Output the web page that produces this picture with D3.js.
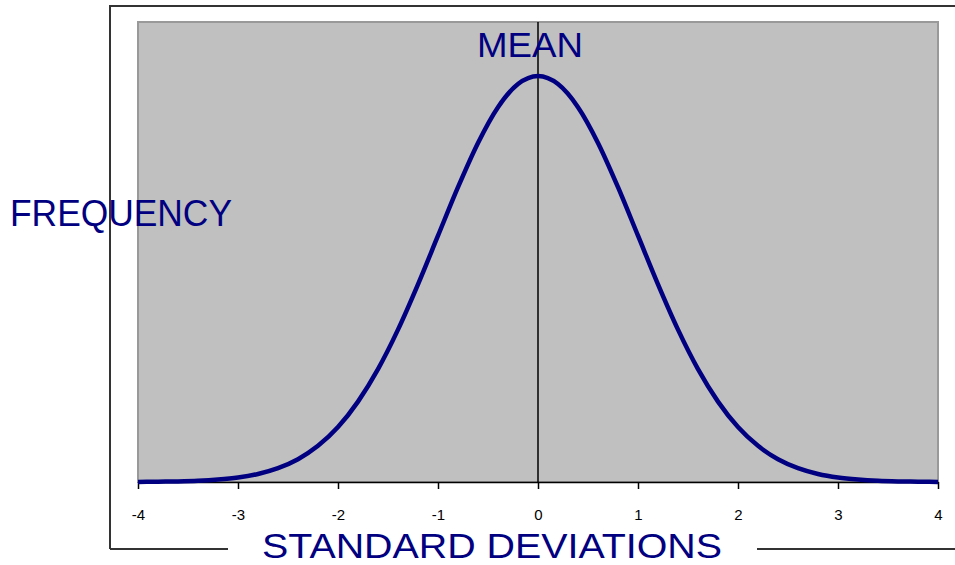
<!DOCTYPE html>
<html>
<head>
<meta charset="utf-8">
<script src="https://cdn.jsdelivr.net/npm/d3@7"></script>
<style>
  html, body { margin: 0; padding: 0; background: #fff; }
  svg { display: block; }
</style>
</head>
<body>
<svg id="chart" width="955" height="565"></svg>
<script>
// Standard deviations from the mean (x) and relative frequency (y)
const sdPoints = [-4.0,-3.8,-3.6,-3.4,-3.2,-3.0,-2.8,-2.6,-2.4,-2.2,-2.0,-1.8,-1.6,-1.4,-1.2,-1.0,-0.8,-0.6,-0.4,-0.2,
                  0.0,0.2,0.4,0.6,0.8,1.0,1.2,1.4,1.6,1.8,2.0,2.2,2.4,2.6,2.8,3.0,3.2,3.4,3.6,3.8,4.0];
const frequency = [0.0001,0.0003,0.0006,0.0012,0.0024,0.0044,0.0079,0.0136,0.0224,0.0355,0.0540,0.0790,0.1109,0.1497,0.1942,0.2420,0.2897,0.3332,0.3683,0.3910,
                   0.3989,0.3910,0.3683,0.3332,0.2897,0.2420,0.1942,0.1497,0.1109,0.0790,0.0540,0.0355,0.0224,0.0136,0.0079,0.0044,0.0024,0.0012,0.0006,0.0003,0.0001];
const xTicks = [-4,-3,-2,-1,0,1,2,3,4];
const xTickLabels = ["-4","-3","-2","-1","0","1","2","3","4"];
const meanValue = 0;
const labels = { top: "MEAN", left: "FREQUENCY", bottom: "STANDARD DEVIATIONS" };

const svg = d3.select("#chart");
const navy = "#000080";
const plot = { left: 138, right: 938, top: 22, bottom: 482 };

const x = d3.scaleLinear().domain([-4, 4]).range([plot.left, plot.right]);
const y = d3.scaleLinear().domain([0, 0.4]).range([plot.bottom, 74.9]);

// outer frame (left, top, and bottom broken by the title)
const frame = svg.append("g").attr("stroke", "#333").attr("stroke-width", 2).attr("fill", "none");
frame.append("path").attr("d", "M110,549 L110,6 L960,6");
frame.append("line").attr("x1", 110).attr("x2", 228).attr("y1", 549).attr("y2", 549);
frame.append("line").attr("x1", 757).attr("x2", 960).attr("y1", 549).attr("y2", 549);

// plot area
svg.append("rect")
  .attr("x", plot.left).attr("y", plot.top)
  .attr("width", plot.right - plot.left).attr("height", plot.bottom - plot.top)
  .attr("fill", "#c0c0c0").attr("stroke", "#999").attr("stroke-width", 2);

// x axis
const axis = svg.append("g")
  .attr("transform", `translate(0,${plot.bottom})`)
  .call(d3.axisBottom(x).tickValues(xTicks).tickFormat((d, i) => xTickLabels[i]).tickSize(7).tickSizeOuter(0).tickPadding(20));
axis.select(".domain").attr("stroke", "#000").attr("stroke-width", 1.5);
axis.selectAll(".tick line").attr("stroke", "#000").attr("stroke-width", 1.5);
axis.selectAll(".tick text")
  .attr("fill", "#000")
  .style("font-family", "Arial, 'Liberation Sans', sans-serif")
  .style("font-size", "15px");

// mean line
svg.append("line")
  .attr("x1", x(meanValue)).attr("x2", x(meanValue))
  .attr("y1", plot.top).attr("y2", plot.bottom)
  .attr("stroke", "#000").attr("stroke-width", 1.5);

// curve
const line = d3.line()
  .x((d, i) => x(sdPoints[i]))
  .y(d => y(d))
  .curve(d3.curveMonotoneX);
svg.append("path")
  .datum(frequency)
  .attr("d", line)
  .attr("fill", "none")
  .attr("stroke", navy)
  .attr("stroke-width", 4.5)
  .attr("stroke-linejoin", "round");

// labels
const font = "Arial, 'Liberation Sans', sans-serif";
svg.append("text").text(labels.top)
  .attr("x", 530).attr("y", 57).attr("text-anchor", "middle")
  .attr("fill", navy).style("font-family", font).style("font-size", "35px")
  .attr("textLength", 106).attr("lengthAdjust", "spacingAndGlyphs");
svg.append("text").text(labels.left)
  .attr("x", 10).attr("y", 226)
  .attr("fill", navy).style("font-family", font).style("font-size", "36px")
  .attr("textLength", 222).attr("lengthAdjust", "spacingAndGlyphs");
svg.append("text").text(labels.bottom)
  .attr("x", 262).attr("y", 558)
  .attr("fill", navy).style("font-family", font).style("font-size", "35px")
  .attr("textLength", 460).attr("lengthAdjust", "spacingAndGlyphs");
</script>
</body>
</html>
